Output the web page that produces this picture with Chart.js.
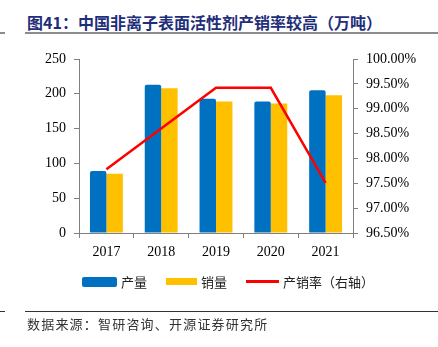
<!DOCTYPE html>
<html>
<head>
<meta charset="utf-8">
<script src="https://cdn.jsdelivr.net/npm/chart.js@4"></script>
<style>
  body { margin: 0; width: 438px; height: 347px; background: #fff; position: relative; overflow: hidden; font-family: "Noto Sans CJK SC", sans-serif; }
  #title { position: absolute; left: 27px; top: 10px; font-size: 16px; font-weight: bold; color: #1F2E7A; white-space: nowrap; }
  .rule { position: absolute; height: 0; }
  #chartBox { position: absolute; left: 0; top: 0; width: 438px; height: 347px; }
  #legend { position: absolute; top: 272px; left: 82px; font-size: 13px; color: #222; }
  .item { position: absolute; white-space: nowrap; display: flex; align-items: center; }
  .sw { display: inline-block; margin-right: 4px; }
  #source { position: absolute; left: 27px; top: 314px; font-size: 13px; color: #333; white-space: nowrap; letter-spacing: 1.2px; }
</style>
</head>
<body>
<div id="title">图41：中国非离子表面活性剂产销率较高（万吨）</div>
<div class="rule" style="left:25px;top:32px;width:413px;border-top:2px solid #8c8c8c"></div>
<div class="rule" style="left:0;top:32px;width:5px;border-top:2px solid #8c8c8c"></div>
<div id="chartBox"><canvas id="myChart" width="438" height="347"></canvas></div>
<div id="legend"></div>
<div class="rule" style="left:25px;top:311px;width:413px;border-top:1px solid #333"></div>
<div class="rule" style="left:0;top:311px;width:5px;border-top:1px solid #333"></div>
<div id="source">数据来源：智研咨询、开源证券研究所</div>
<script>
const years = ['2017', '2018', '2019', '2020', '2021'];
const production = [89, 213, 193, 189, 205];
const sales = [85, 208, 189, 186, 198];
const ratio = [97.78, 98.60, 99.42, 99.42, 97.51];

const names = ['产量', '销量', '产销率（右轴）'];
const colors = ['#0070C0', '#FFC000', '#FF0000'];

// legend drawn in html
const legend = document.getElementById('legend');
const legendX = [0, 84, 164];
names.forEach(function (name, i) {
    const item = document.createElement('div');
    item.className = 'item';
    item.style.left = legendX[i] + 'px';
    const sw = document.createElement('span');
    sw.className = 'sw';
    if (i === 0) { sw.style.cssText = 'width:35px;height:10px;border-radius:2px;background:' + colors[i]; }
    else if (i === 1) { sw.style.cssText = 'width:31px;height:7px;background:' + colors[i]; }
    else { sw.style.cssText = 'width:33px;height:2.5px;background:' + colors[i]; }
    item.appendChild(sw);
    item.appendChild(document.createTextNode(name));
    legend.appendChild(item);
});

const tickFont = { family: '"Liberation Serif", "Times New Roman", serif', size: 14 };
const axisColor = '#808080';

new Chart(document.getElementById('myChart').getContext('2d'), {
    type: 'bar',
    data: {
        labels: years,
        datasets: [{
            type: 'line',
            label: names[2],
            data: ratio,
            yAxisID: 'y1',
            borderColor: colors[2],
            borderWidth: 2.5,
            pointRadius: 0,
            fill: false,
            tension: 0,
            order: 0
        }, {
            label: names[0],
            data: production,
            backgroundColor: colors[0],
            borderRadius: { topLeft: 2, topRight: 2 },
            borderSkipped: 'bottom',
            yAxisID: 'y',
            order: 1
        }, {
            label: names[1],
            data: sales,
            backgroundColor: colors[1],
            yAxisID: 'y',
            order: 1
        }]
    },
    options: {
        responsive: false,
        animation: false,
        devicePixelRatio: 1,
        datasets: { bar: { categoryPercentage: 0.6, barPercentage: 1.0 } },
        layout: { padding: { top: 59, left: 0, right: 0, bottom: 0 } },
        plugins: { legend: { display: false }, tooltip: { enabled: false } },
        scales: {
            x: {
                grid: { drawOnChartArea: false, drawTicks: true, tickLength: 5, color: axisColor, offset: true },
                border: { display: true, color: axisColor, width: 1 },
                ticks: { color: '#000', font: tickFont, padding: 6 },
                afterFit: function (s) { s.height = 114; }
            },
            y: {
                position: 'left',
                min: 0, max: 250,
                grid: { drawOnChartArea: false, drawTicks: true, tickLength: 5, color: axisColor },
                border: { display: true, color: axisColor, width: 1 },
                ticks: { stepSize: 50, color: '#000', font: tickFont, padding: 8 },
                afterFit: function (s) { s.width = 79; }
            },
            y1: {
                position: 'right',
                min: 96.5, max: 100,
                grid: { drawOnChartArea: false, drawTicks: true, tickLength: 5, color: axisColor },
                border: { display: true, color: axisColor, width: 1 },
                ticks: { stepSize: 0.5, color: '#000', font: tickFont, padding: 8,
                    callback: function (v) { return v.toFixed(2) + '%'; } },
                afterFit: function (s) { s.width = 85; }
            }
        }
    }
});
</script>
</body>
</html>
